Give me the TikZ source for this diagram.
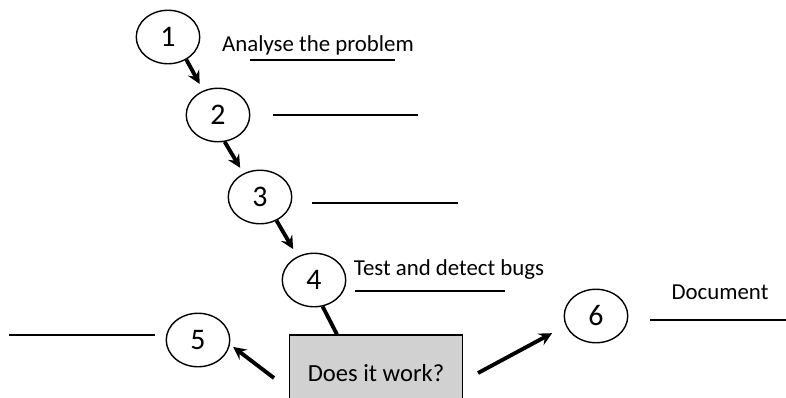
\documentclass[tikz,border=0pt]{standalone}
\usepackage{fontspec}
\setmainfont{Carlito}
\usepackage{tikz}
\usetikzlibrary{shapes.geometric, arrows, calc}
\tikzstyle{stage} = [ellipse, minimum width=1.27cm, minimum height=1.07cm, inner sep=0pt, draw=black, line width=0.8pt, font=\fontsize{17}{19}\selectfont]
\tikzstyle{check} = [rectangle, minimum width=3.46cm, minimum height=1.52cm, text centered, draw=black, line width=0.6pt, fill=black!18, font=\fontsize{14}{16}\selectfont]
\tikzstyle{note} = [font=\fontsize{13}{15}\selectfont]
\tikzstyle{blank} = [line width=1.1pt]
\tikzstyle{arrow} = [line width=2.2pt,->,>=stealth]

\begin{document}
\begin{tikzpicture}[x=0.02cm, y=-0.02cm]
\useasboundingbox (0,0) rectangle (786,397);
\clip (0,0) rectangle (786,397);
\node (one) [stage] at (168,37) {1};
\node (two) [stage] at (218,115) {2};
\node (three) [stage] at (260,197) {3};
\node (four) [stage] at (314,280) {4};
\node (five) [stage] at (198,340) {5};
\node (six) [stage] at (596,316) {6};
\node (work) [check] at (376,373) {Does it work?};
\node (analyse) [note] at (318,45) {Analyse the problem};
\node (test) [note] at (449,270) {Test and detect bugs};
\node (doc) [note] at (720,292) {Document};

\draw [blank] (250,60) -- (395,60);
\draw [blank] (273,115) -- (418,115);
\draw [blank] (312,203) -- (458,203);
\draw [blank] (355,291) -- (505,291);
\draw [blank] (9,335) -- (155,335);
\draw [blank] (650,320) -- (786,320);

\draw [arrow, shorten >=0.15cm] (one.-51) -- (two.121);
\draw [arrow, shorten >=0.13cm] (two.-76) -- (three.125);
\draw [arrow, shorten >=0.17cm] (three.-55) -- (four.125);
\draw [line width=2.2pt] (four.-72) -- ([xshift=-0.78cm]work.north);
\draw [arrow, shorten >=0.08cm] ([xshift=-0.3cm,yshift=-0.1cm]work.west) -- (five.-8);
\draw [arrow, shorten >=0.31cm] ([xshift=0.3cm]work.east) -- (six.198);
\end{tikzpicture}
\end{document}
